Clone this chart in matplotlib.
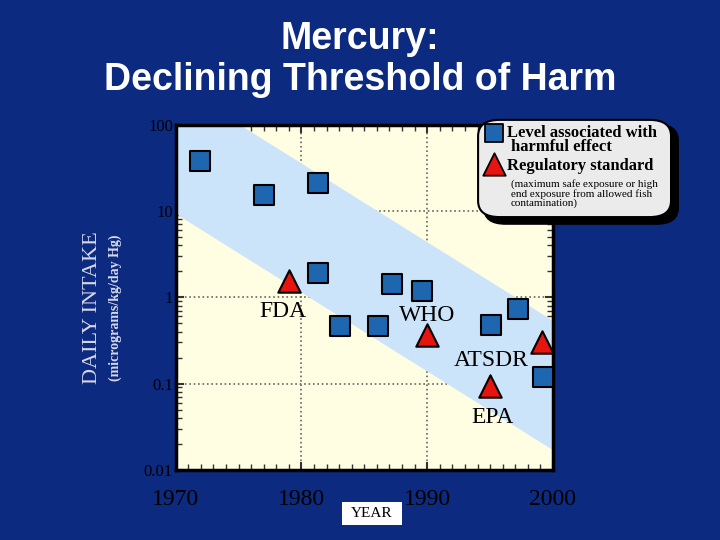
import numpy as np
import matplotlib.pyplot as plt
from matplotlib.patches import FancyBboxPatch, Rectangle
from matplotlib.ticker import MultipleLocator, LogLocator, NullFormatter

# harmful-effect levels (blue squares)
harm_year = [1971.9, 1977.0, 1981.3, 1981.3, 1983.1, 1986.1, 1987.2, 1989.6, 1995.1, 1997.2, 1999.2]
harm_val = [38, 15.5, 21, 1.9, 0.46, 0.47, 1.44, 1.18, 0.48, 0.73, 0.12]

# regulatory standards (red triangles)
reg_name = ['FDA', 'WHO', 'EPA', 'ATSDR']
reg_year = [1979.0, 1990.0, 1995.0, 1999.1]
reg_val = [1.55, 0.37, 0.093, 0.3]

# band edges (log10 values at 1970 and 2000)
band_years = [1970, 2000]
band_top = [2.456, -0.28]
band_bot = [0.98, -1.76]

serif = ['Liberation Serif', 'DejaVu Serif']

fig = plt.figure(figsize=(7.2, 5.4), dpi=100)
fig.patch.set_facecolor('#0b2a80')
ax = fig.add_axes([0.244, 0.13, 0.524, 0.639])
ax.set_facecolor('#fffde2')

ax.fill_between(band_years, 10 ** np.array(band_top), 10 ** np.array(band_bot),
                color='#cce4fa', zorder=1)

ax.scatter(harm_year, harm_val, marker='s', s=190, color='#1f66b0',
           edgecolors='black', linewidths=1.5, zorder=4)
ax.scatter(reg_year, reg_val, marker='^', s=260, color='#e8140f',
           edgecolors='black', linewidths=1.5, zorder=4)

label_off = {'FDA': (-0.5, 0.44), 'WHO': (0.0, 1.65), 'EPA': (0.2, 0.44), 'ATSDR': (-4.0, 0.62)}
for name, yr, v in zip(reg_name, reg_year, reg_val):
    dx, f = label_off[name]
    ax.text(yr + dx, v * f, name, ha='center', va='center', fontsize=17,
            family=serif, zorder=5)

ax.set_yscale('log')
ax.set_xlim(1970, 2000)
ax.set_ylim(0.01, 100)
ax.set_xticks([1970, 1980, 1990, 2000])
ax.set_yticks([0.01, 0.1, 1, 10, 100])
ax.set_yticklabels(['0.01', '0.1', '1', '10', '100'])
ax.xaxis.set_minor_locator(MultipleLocator(1))
ax.yaxis.set_minor_locator(LogLocator(base=10, subs=np.arange(2, 10)))
ax.yaxis.set_minor_formatter(NullFormatter())
ax.tick_params(which='both', direction='in', top=True, right=True, color='#333333')
ax.tick_params(which='major', length=6, width=1.5)
ax.tick_params(which='minor', length=4, width=1)
ax.tick_params(axis='x', labelsize=17, pad=14)
ax.tick_params(axis='y', labelsize=12, pad=2)
for lab in ax.get_xticklabels() + ax.get_yticklabels():
    lab.set_family(serif)
    lab.set_color('black')
ax.grid(True, which='major', linestyle=':', color='#666666', linewidth=1.2)
for s in ax.spines.values():
    s.set_linewidth(2.5)
    s.set_color('black')
ax.set_axisbelow(True)

fig.text(0.5, 0.89, 'Mercury:\nDeclining Threshold of Harm', ha='center', va='center',
         color='white', fontsize=27, fontweight='bold', linespacing=1.2,
         family=['Liberation Sans', 'DejaVu Sans'])
fig.text(0.128, 0.43, 'DAILY INTAKE', rotation=90, ha='center', va='center',
         color='#d8d8e8', fontsize=16, family=serif)
fig.text(0.16, 0.43, '(micrograms/kg/day Hg)', rotation=90, ha='center', va='center',
         color='#d8d8e8', fontsize=10, fontweight='bold', family=serif)

fig.patches.append(Rectangle((0.475, 0.028), 0.083, 0.042, transform=fig.transFigure,
                             facecolor='white', edgecolor='none'))
fig.text(0.5165, 0.049, 'YEAR', ha='center', va='center', fontsize=11, family=serif)

# legend box with shadow
fig.patches.append(FancyBboxPatch((0.672, 0.585), 0.27, 0.185, transform=fig.transFigure,
                                  boxstyle='round,pad=0.0,rounding_size=0.03',
                                  facecolor='black', edgecolor='black', zorder=5))
fig.patches.append(FancyBboxPatch((0.664, 0.598), 0.268, 0.18, transform=fig.transFigure,
                                  boxstyle='round,pad=0.0,rounding_size=0.03',
                                  facecolor='#ebebeb', edgecolor='black', linewidth=1.5, zorder=6))
lg = fig.add_axes([0.664, 0.598, 0.268, 0.18])
lg.set_xlim(0, 1)
lg.set_ylim(0, 1)
lg.axis('off')
lg.set_zorder(7)
lg.scatter([0.08], [0.87], marker='s', s=170, color='#1f66b0', edgecolors='black', linewidths=1.3)
lg.scatter([0.08], [0.55], marker='^', s=260, color='#e8140f', edgecolors='black', linewidths=1.3)
lg.text(0.15, 0.87, 'Level associated with', va='center', fontsize=12, fontweight='bold', family=serif)
lg.text(0.17, 0.72, 'harmful effect', va='center', fontsize=12, fontweight='bold', family=serif)
lg.text(0.15, 0.53, 'Regulatory standard', va='center', fontsize=12, fontweight='bold', family=serif)
lg.text(0.17, 0.24, '(maximum safe exposure or high\nend exposure from allowed fish\ncontamination)',
        va='center', fontsize=8, family=serif, linespacing=0.95)

fig.savefig('out.png', dpi=100, facecolor=fig.get_facecolor())
